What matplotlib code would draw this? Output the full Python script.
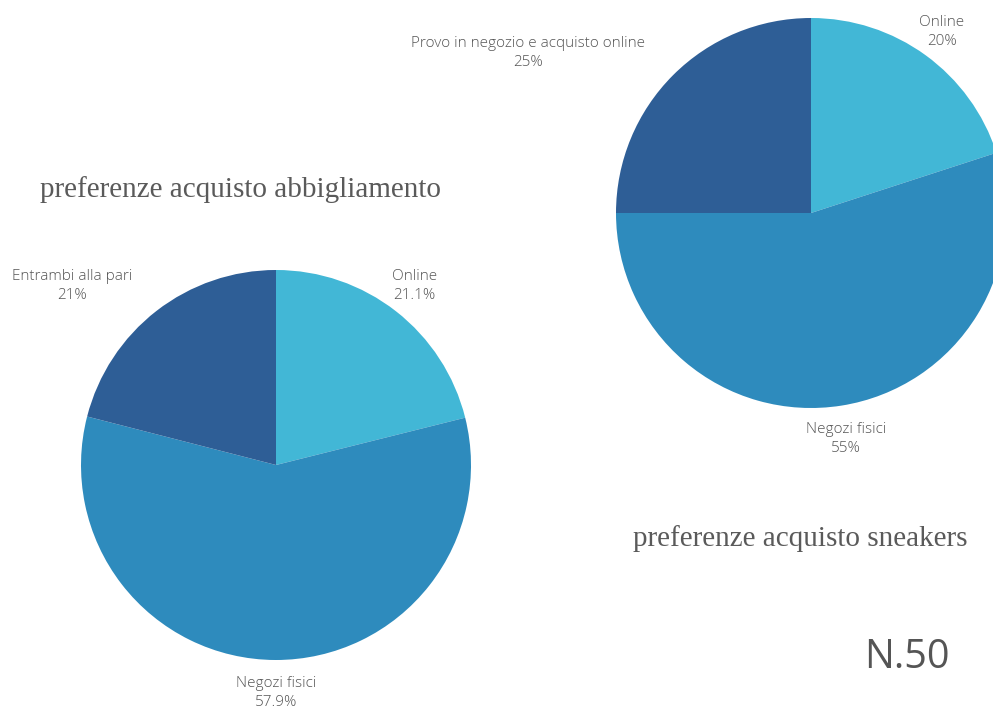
import numpy as np
import matplotlib
matplotlib.use("Agg")
from matplotlib import pyplot as plt

# Data
abbigliamento_labels = ["Online", "Negozi fisici", "Entrambi alla pari"]
abbigliamento_values = [21.1, 57.9, 21.0]
abbigliamento_text = ["21.1%", "57.9%", "21%"]

sneakers_labels = ["Online", "Negozi fisici", "Provo in negozio e acquisto online"]
sneakers_values = [20, 55, 25]
sneakers_text = ["20%", "55%", "25%"]

COLORS = ["#42B7D6", "#2E8BBD", "#2E5E96"]
LABEL_COLOR = "#555555"
TITLE_COLOR = "#5a5a5a"

fig = plt.figure(figsize=(9.93, 7.11), dpi=100)
fig.patch.set_facecolor("white")


def draw_pie(rect, values, labels, texts, label_pos):
	ax = fig.add_axes(rect)
	ax.pie(values, colors=COLORS, startangle=90, counterclock=False,
		radius=1.0, wedgeprops=dict(linewidth=0))
	ax.set_xlim(-1, 1)
	ax.set_ylim(-1, 1)
	ax.set_aspect("equal")
	ax.axis("off")
	# labels placed around the pie (x, y in pie units)
	for (x, y), name, txt in zip(label_pos, labels, texts):
		ax.text(x, y, f"{name}\n{txt}", ha="center", va="center", fontsize=11,
			family="Open Sans", fontweight="light", color=LABEL_COLOR,
			linespacing=1.35, clip_on=False)
	return ax


# Left pie: clothing
draw_pie([81 / 993, 51 / 711, 390 / 993, 390 / 711],
	abbigliamento_values, abbigliamento_labels, abbigliamento_text,
	[(0.71, 0.92), (0.0, -1.17), (-1.045, 0.92)])

# Right pie: sneakers
draw_pie([616 / 993, 303 / 711, 390 / 993, 390 / 711],
	sneakers_values, sneakers_labels, sneakers_text,
	[(0.67, 0.93), (0.18, -1.16), (-1.45, 0.82)])

# Titles
fig.text(240 / 993, 1 - 190 / 711, "preferenze acquisto abbigliamento",
	ha="center", va="center", fontsize=21, family="Liberation Serif",
	color=TITLE_COLOR)
fig.text(800 / 993, 1 - 539 / 711, "preferenze acquisto sneakers",
	ha="center", va="center", fontsize=21, family="Liberation Serif",
	color=TITLE_COLOR)
fig.text(907 / 993, 1 - 658 / 711, "N.50", ha="center", va="center",
	fontsize=28.5, family="Open Sans", color="#555555")

plt.savefig("out.png", dpi=100, facecolor="white")
